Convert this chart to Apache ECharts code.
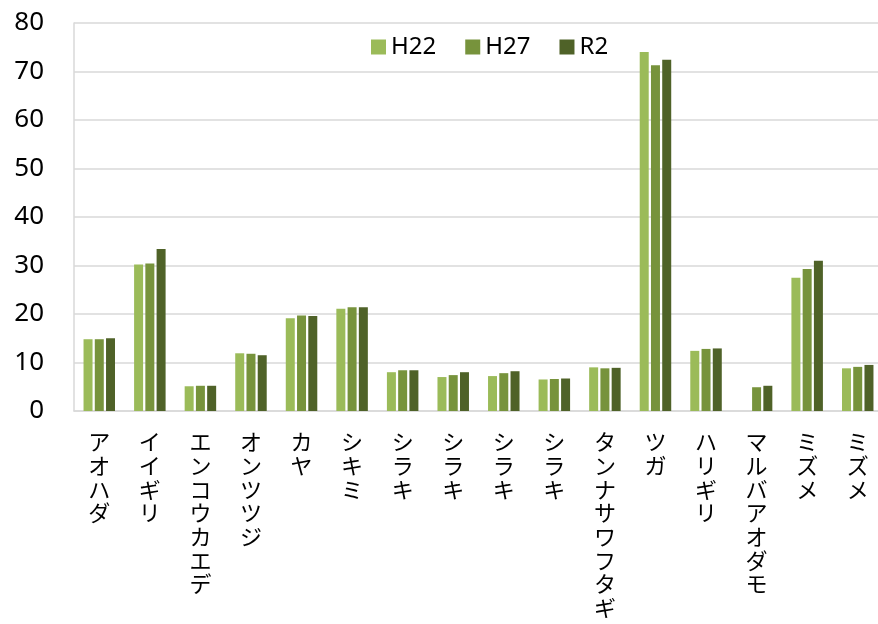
<!DOCTYPE html>
<html>
<head>
<meta charset="utf-8">
<script src="https://cdn.jsdelivr.net/npm/echarts@6/dist/echarts.min.js"></script>
<style>
  html, body { margin: 0; padding: 0; background: #fff; }
  #chart { width: 878px; height: 624px; }
</style>
</head>
<body>
<div id="chart"></div>
<script>
// Tree species (katakana names) and counts per survey year
const categories = [
  'アオハダ', 'イイギリ', 'エンコウカエデ', 'オンツツジ', 'カヤ', 'シキミ',
  'シラキ', 'シラキ', 'シラキ', 'シラキ', 'タンナサワフタギ', 'ツガ',
  'ハリギリ', 'マルバアオダモ', 'ミズメ', 'ミズメ'
];
const seriesNames = ['H22', 'H27', 'R2'];
const h22 = [14.8, 30.2, 5.1, 11.9, 19.1, 21.1, 8.0, 7.0, 7.2, 6.5, 9.0, 74.0, 12.4, null, 27.5, 8.8];
const h27 = [14.8, 30.4, 5.2, 11.8, 19.7, 21.4, 8.4, 7.4, 7.8, 6.6, 8.8, 71.3, 12.8, 4.9, 29.3, 9.1];
const r2  = [15.0, 33.4, 5.2, 11.5, 19.6, 21.4, 8.4, 8.0, 8.2, 6.7, 8.9, 72.4, 12.9, 5.2, 31.0, 9.5];
const yTicks = { min: 0, max: 80, interval: 10 };

const colors = ['#9BBB59', '#77933C', '#4F6228'];
const values = [h22, h27, r2];

const chart = echarts.init(document.getElementById('chart'), null, { renderer: 'canvas' });

chart.setOption({
  animation: false,
  backgroundColor: '#ffffff',
  color: colors,
  legend: {
    left: 371,
    top: 35,
    padding: 0,
    itemWidth: 15,
    itemHeight: 15,
    itemGap: 29,
    icon: 'rect',
    textStyle: { fontFamily: 'Noto Sans', fontSize: 24, color: '#000' },
    data: seriesNames
  },
  grid: {
    left: 74, top: 23, width: 809, height: 388,
    containLabel: false,
    outerBoundsMode: 'none'
  },
  xAxis: {
    type: 'category',
    data: categories,
    axisLine: { show: true, lineStyle: { color: '#d9d9d9', width: 1.5 } },
    axisTick: { show: false },
    axisLabel: {
      interval: 0,
      margin: 19,
      fontFamily: 'Noto Sans CJK JP',
      fontSize: 22,
      lineHeight: 23.7,
      color: '#000',
      verticalAlign: 'top',
      formatter: (v) => v.split('').join('\n')
    }
  },
  yAxis: {
    type: 'value',
    min: yTicks.min,
    max: yTicks.max,
    interval: yTicks.interval,
    axisLine: { show: true, lineStyle: { color: '#d9d9d9', width: 1.5 } },
    axisTick: { show: false },
    splitLine: { lineStyle: { color: '#d9d9d9', width: 1.5 } },
    axisLabel: {
      margin: 30,
      fontFamily: 'Noto Sans',
      fontSize: 26,
      color: '#000'
    }
  },
  series: seriesNames.map((name, i) => ({
    name,
    type: 'bar',
    data: values[i],
    barWidth: 9,
    barGap: '25%',
    itemStyle: { color: colors[i] }
  }))
});
</script>
</body>
</html>
